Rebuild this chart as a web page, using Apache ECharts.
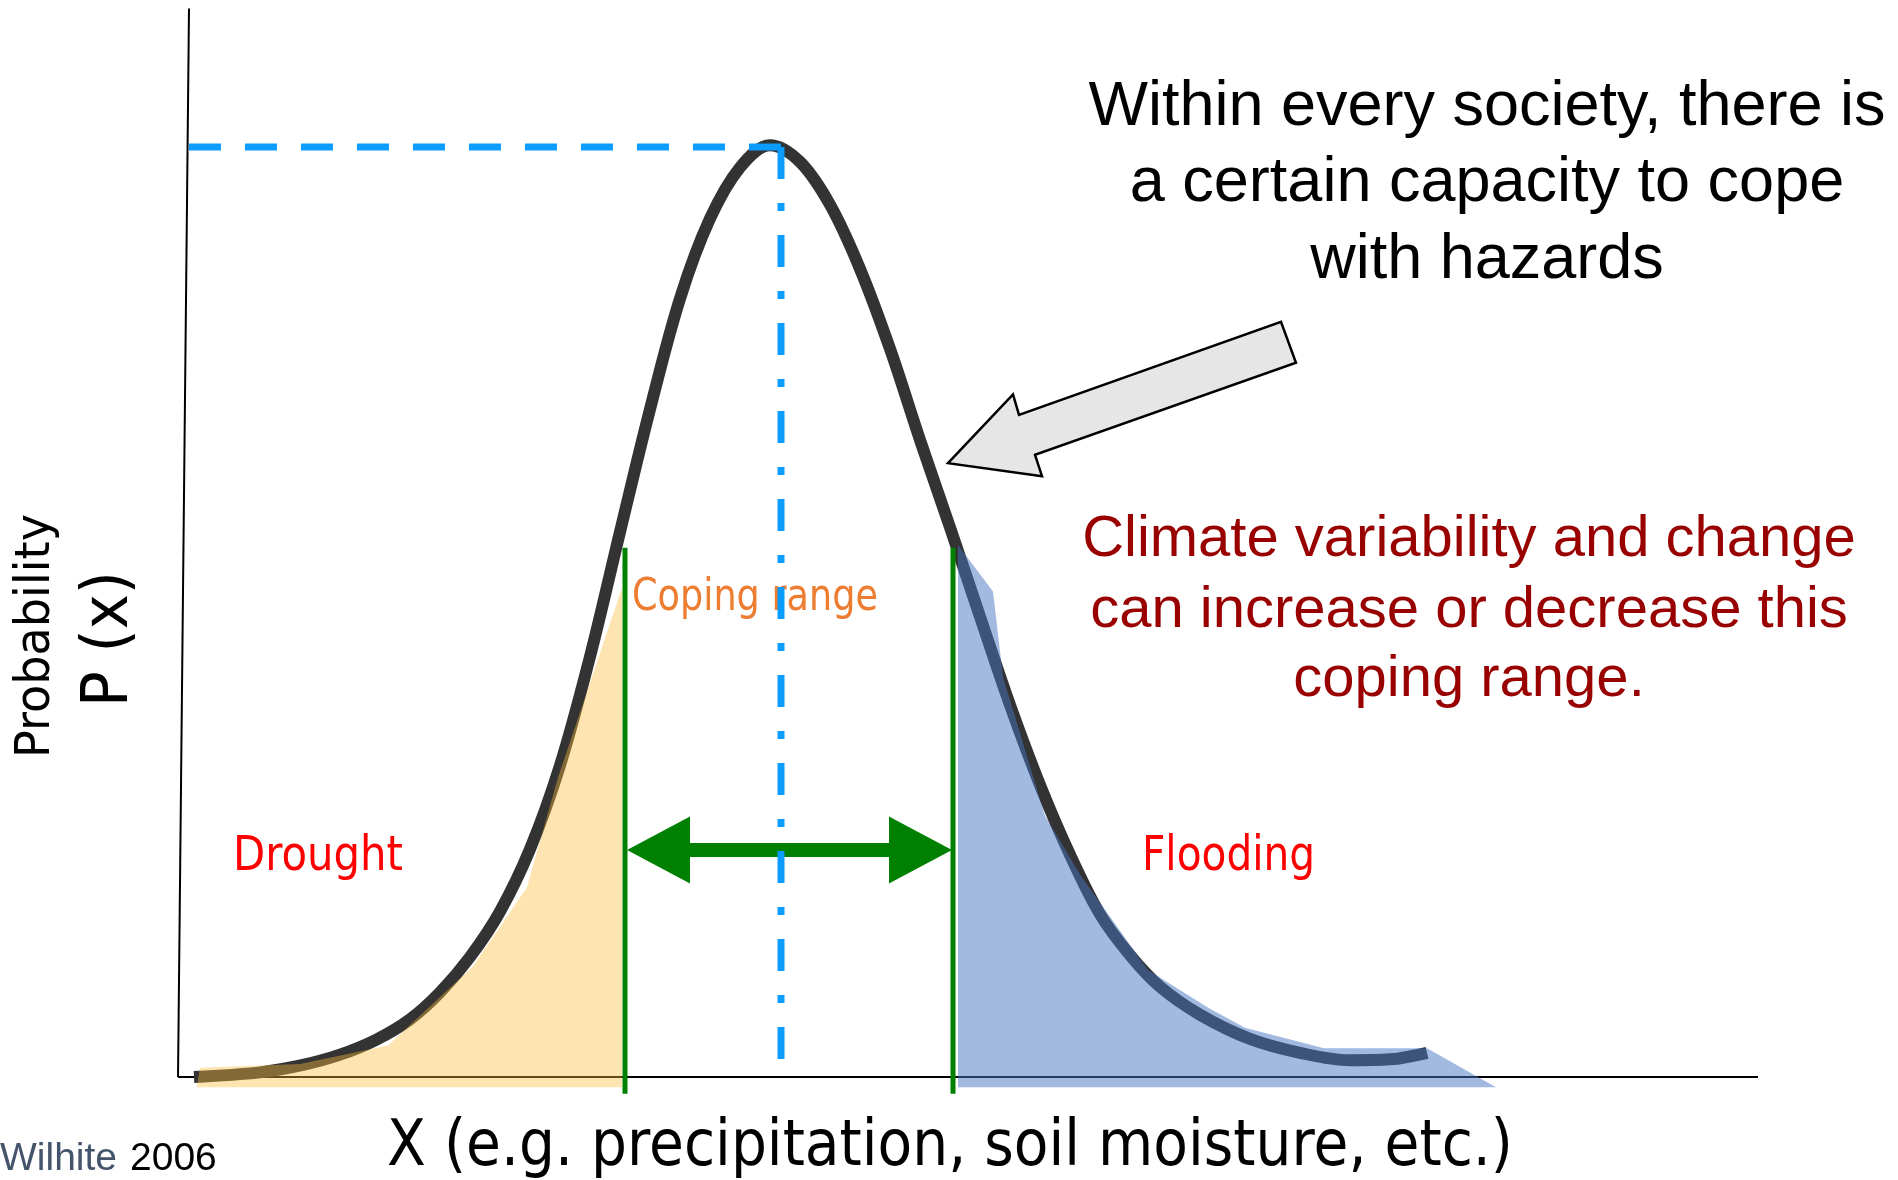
<!DOCTYPE html>
<html><head><meta charset="utf-8">
<script src="https://cdn.jsdelivr.net/npm/echarts@6/dist/echarts.min.js"></script>
<style>html,body{margin:0;padding:0;background:#fff;overflow:hidden}#chart{width:1898px;height:1180px}</style>
</head><body><div id="chart"></div>
<script>
// ---- data (arbitrary X units, probability units) ----
const curveX = [0.25,0.91,1.34,1.71,2.07,2.41,2.71,3.01,3.31,3.61,3.91,4.21,4.51,4.81,5.11,5.41,5.71,6.01,6.31,6.61,6.91,7.21,7.51,7.81,8.11,8.41,8.71,9.01,9.31,9.61,9.91,10.31,10.81,11.31,11.81,12.21,12.58];
const curveY = [0.000,0.005,0.013,0.024,0.040,0.062,0.091,0.129,0.178,0.245,0.335,0.452,0.586,0.718,0.837,0.923,0.978,1.002,0.984,0.938,0.869,0.783,0.685,0.591,0.495,0.400,0.314,0.239,0.175,0.131,0.097,0.067,0.041,0.026,0.018,0.019,0.026];
const droughtX = [0.28,0.31,1.31,2.19,3.04,3.58,3.89,4.53];
const droughtY = [-0.009,0.010,0.014,0.034,0.119,0.204,0.322,0.526];
const floodX = [7.89,8.24,8.34,8.76,9.12,9.79,10.40,10.76,11.55,12.58,13.27];
const floodY = [0.572,0.522,0.430,0.281,0.216,0.115,0.074,0.053,0.031,0.031,-0.011];
const fillBase = -0.011;
const meanX = 6.12, peakY = 1.0, meanLineBottom = 0.018, peakLineStart = 0.20;
const copingLow = 4.56, copingHigh = 7.84, copingTop = 0.569, copingBottom = -0.018;
const rangeArrowX = [4.58, 7.83], rangeArrowY = 0.244;
const xAxisLine = [[0.09,0],[15.89,0]];
const yAxisLine = [[0.09,0],[0.20,1.149]];
const calloutArrow = [[11.12,0.812],[11.27,0.768],[8.66,0.669],[8.73,0.646],[7.79,0.660],[8.44,0.734],[8.50,0.712]];
const topNote = ['Within every society, there is','a certain capacity to cope','with hazards'];
const redNote = ['Climate variability and change','can increase or decrease this','coping range.'];
const xTitle = 'X (e.g. precipitation, soil moisture, etc.)';
const yTitle1 = 'Probability', yTitle2 = 'P (x)';
const zip = (a,b)=>a.map((v,i)=>[v,b[i]]);

const mctx = document.createElement('canvas').getContext('2d');
function fitScale(text, font, target){ mctx.font = font; return target / mctx.measureText(text).width; }

const chart = echarts.init(document.getElementById('chart'));

const g = [];
const ARIAL = '"Liberation Sans", Arial, sans-serif';
const DJV = '"DejaVu Sans", Verdana, sans-serif';
topNote.forEach((t,i)=>{
  g.push({type:'text', x:1487, y:[108,184,261][i], z:20, style:{text:t, font:'63px '+ARIAL, fill:'#000', align:'center', verticalAlign:'middle'}});
});
redNote.forEach((t,i)=>{
  g.push({type:'text', x:1469, y:[540,611,680][i], z:20, style:{text:t, font:'58px '+ARIAL, fill:'#990000', align:'center', verticalAlign:'middle'}});
});
function fitted(text, size, family, x, y, w, fill, z){
  const font = size+'px '+family;
  const s = fitScale(text, font, w);
  return {type:'text', x:x, y:y, z:z, scaleX:s, style:{text:text, font:font, fill:fill, align:'left', verticalAlign:'middle'}};
}
g.push(fitted('Coping range', 44, DJV, 632, 599, 246, '#ED7D31', 5));
g.push(fitted('Drought', 48, DJV, 233, 858, 170, '#FF0000', 20));
g.push(fitted('Flooding', 48, DJV, 1142, 858, 173, '#FF0000', 20));
g.push(fitted(xTitle, 64, DJV, 387, 1148, 1126, '#000', 20));
(function(){
  const f1 = '48px '+DJV, f2 = '64px '+DJV;
  g.push({type:'text', x:37, y:636, rotation:Math.PI/2, scaleX:fitScale(yTitle1,f1,244), z:20, style:{text:yTitle1, font:f1, fill:'#000', align:'center', verticalAlign:'middle'}});
  g.push({type:'text', x:110, y:639, rotation:Math.PI/2, scaleX:fitScale(yTitle2,f2,136), z:20, style:{text:yTitle2, font:f2, fill:'#000', align:'center', verticalAlign:'middle'}});
})();
g.push({type:'text', x:0, y:1159, z:20, style:{text:'Wilhite', font:'39px '+ARIAL, fill:'#44546A', align:'left', verticalAlign:'middle'}});
g.push({type:'text', x:130, y:1159, z:20, style:{text:'2006', font:'39px '+ARIAL, fill:'#000', align:'left', verticalAlign:'middle'}});

function plainLine(data, color, width, z, extra){
  return Object.assign({type:'line', data:data, showSymbol:false, silent:true, animation:false, z:z,
    lineStyle:{color:color, width:width}}, extra||{});
}

const option = {
  animation:false,
  backgroundColor:'#fff',
  grid:{left:169, right:129, top:7.5, bottom:84.4},
  xAxis:{type:'value', min:0, max:16, show:false},
  yAxis:{type:'value', min:-0.02, max:1.15, show:false},
  graphic:g,
  series:[
    plainLine(xAxisLine, '#000', 2, 1),
    plainLine(yAxisLine, '#000', 2, 1),
    plainLine(zip(curveX, curveY), '#333333', 12, 2, {smooth:0.35}),
    plainLine([[copingLow,copingTop],[copingLow,copingBottom]], '#008000', 5, 3),
    plainLine([[copingHigh,copingTop],[copingHigh,copingBottom]], '#008000', 5, 3),
    {type:'line', data:zip(droughtX, droughtY), showSymbol:false, silent:true, z:4,
      lineStyle:{opacity:0}, areaStyle:{color:'rgba(250,187,57,0.4)', origin:fillBase, opacity:1}},
    {type:'line', data:zip(floodX, floodY), showSymbol:false, silent:true, z:4,
      lineStyle:{opacity:0}, areaStyle:{color:'rgba(69,116,194,0.5)', origin:fillBase, opacity:1}},
    {type:'custom', z:5, silent:true, data:[[rangeArrowX[0], rangeArrowY]],
      renderItem:function(params, api){
        const p1 = api.coord([rangeArrowX[0], rangeArrowY]);
        const p2 = api.coord([rangeArrowX[1], rangeArrowY]);
        const hl = 63, hh = 33.5, sh = 7, y = p1[1];
        return {type:'polygon', shape:{points:[[p1[0],y],[p1[0]+hl,y-hh],[p1[0]+hl,y-sh],[p2[0]-hl,y-sh],[p2[0]-hl,y-hh],[p2[0],y],[p2[0]-hl,y+hh],[p2[0]-hl,y+sh],[p1[0]+hl,y+sh],[p1[0]+hl,y+hh]]},
          style:{fill:'#008000'}};
      }},
    plainLine([[peakLineStart,peakY],[meanX,peakY]], '#0A9CFF', 7, 6, {lineStyle:{color:'#0A9CFF', width:7, type:[32,24]}}),
    plainLine([[meanX,peakY],[meanX,meanLineBottom]], '#0A9CFF', 7, 6, {lineStyle:{color:'#0A9CFF', width:7, type:[32,24,8,24]}}),
    {type:'custom', z:7, silent:true, data:calloutArrow.slice(0,1),
      renderItem:function(params, api){
        return {type:'polygon', shape:{points:calloutArrow.map(p=>api.coord(p))},
          style:{fill:'#E6E6E6', stroke:'#000', lineWidth:2.5}};
      }}
  ]
};
chart.setOption(option);
</script></body></html>
